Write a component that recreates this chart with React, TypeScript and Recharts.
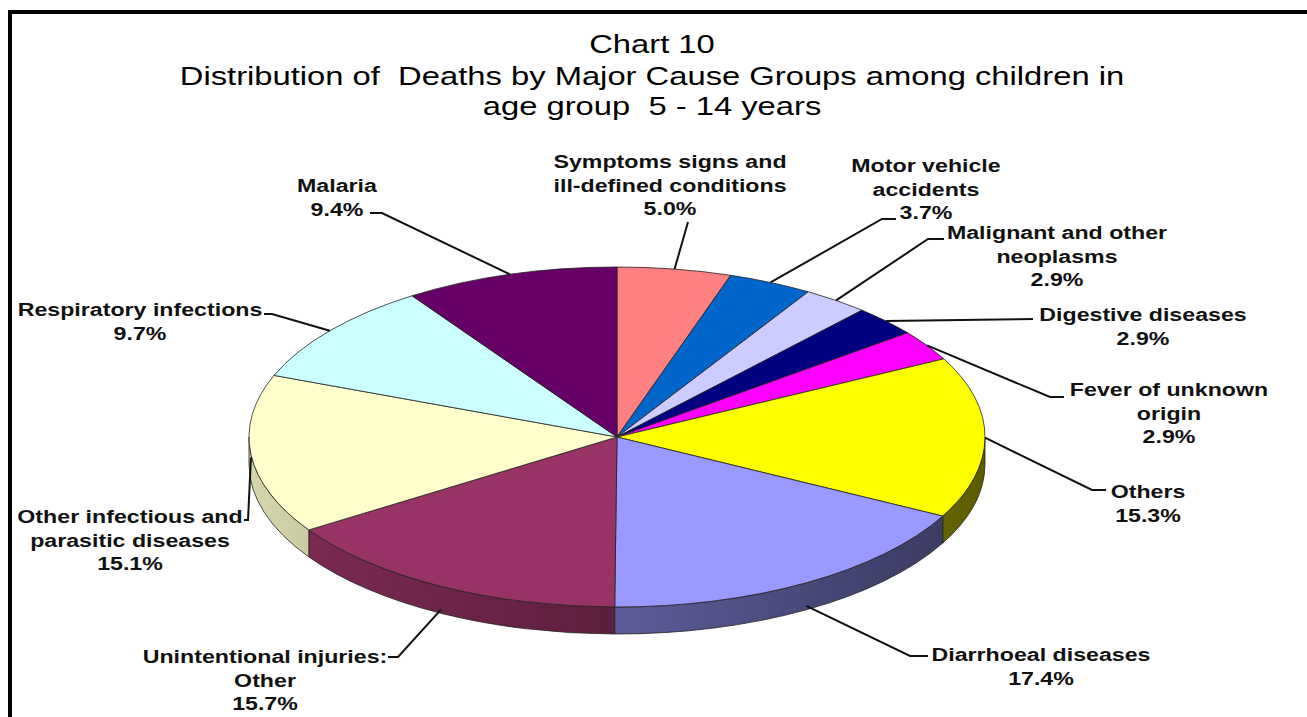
import React from 'react';
import { PieChart, Pie } from 'recharts';

// ---------- data ----------
const categories = [
  'Symptoms signs and\nill-defined conditions',
  'Motor vehicle\naccidents',
  'Malignant and other\nneoplasms',
  'Digestive diseases',
  'Fever of unknown\norigin',
  'Others',
  'Diarrhoeal diseases',
  'Unintentional injuries:\nOther',
  'Other infectious and\nparasitic diseases',
  'Respiratory infections',
  'Malaria',
];
const shares = [5.0, 3.7, 2.9, 2.9, 2.9, 15.3, 17.4, 15.7, 15.1, 9.7, 9.4];
const colors = [
  '#FF8080', '#0066CC', '#CCCCFF', '#000080', '#FF00FF', '#FFFF00',
  '#9999FF', '#993366', '#FFFFCC', '#CCFFFF', '#660066',
];
const titleLines = [
  'Chart 10',
  'Distribution of  Deaths by Major Cause Groups among children in',
  'age group  5 - 14 years',
];

const pieData = categories.map((name, i) => ({ name, value: shares[i] }));

// ---------- layout ----------
const W = 1307;
const H = 717;
const CX = 617;
const CY = 437;
const RX = 368;
const RY_RATIO = 0.462;
const DEPTH = 27;
const LABEL_FONT = 19;
const LABEL_SCALE = 1.22;
const LINE_H = 23.5;

// label text centre (x, first line centre y) and leader elbow points
const labelLayout: { x: number; y: number; pts: number[][] }[] = [
  { x: 670, y: 162, pts: [[688, 222]] },
  { x: 926, y: 166, pts: [[882, 219], [896, 219]] },
  { x: 1057, y: 233, pts: [[928, 239], [944, 239]] },
  { x: 1143, y: 315, pts: [[1033, 319]] },
  { x: 1169, y: 390, pts: [[1050, 397], [1064, 397]] },
  { x: 1148, y: 492, pts: [[1092, 490], [1106, 490]] },
  { x: 1041, y: 655, pts: [[910, 656], [928, 656]] },
  { x: 265, y: 657, pts: [[398, 657], [388, 657]] },
  { x: 130, y: 517, pts: [[248, 520], [244, 520]] },
  { x: 140, y: 310, pts: [[272, 314], [264, 314]] },
  { x: 337, y: 186, pts: [[382, 213], [370, 213]] },
];

const shade = (hex: string, f: number) => {
  const n = parseInt(hex.slice(1), 16);
  const r = Math.round(((n >> 16) & 255) * f);
  const g = Math.round(((n >> 8) & 255) * f);
  const b = Math.round((n & 255) * f);
  return `rgb(${r},${g},${b})`;
};

const RAD = Math.PI / 180;

const renderSlice = (props: any) => {
  const { cx, cy, outerRadius, startAngle, endAngle, index } = props;
  const rx = outerRadius;
  const ry = outerRadius * RY_RATIO;
  const pt = (a: number, dy = 0) => [cx + rx * Math.cos(a * RAD), cy - ry * Math.sin(a * RAD) + dy];
  const s = Math.max(startAngle, endAngle);
  const e = Math.min(startAngle, endAngle);
  const color = colors[index];
  const p1 = pt(s);
  const p2 = pt(e);
  const large = s - e > 180 ? 1 : 0;
  const top = `M${cx},${cy} L${p1[0]},${p1[1]} A${rx},${ry} 0 ${large} 1 ${p2[0]},${p2[1]} Z`;

  // side wall (front half: angles between -180 and 0)
  let side: string | null = null;
  const a2 = Math.min(s, 0);
  const a1 = Math.max(e, -180);
  if (a2 > a1) {
    const q2 = pt(a2);
    const q1 = pt(a1);
    const q1d = pt(a1, DEPTH);
    const q2d = pt(a2, DEPTH);
    side = `M${q2[0]},${q2[1]} A${rx},${ry} 0 0 1 ${q1[0]},${q1[1]} L${q1d[0]},${q1d[1]} A${rx},${ry} 0 0 0 ${q2d[0]},${q2d[1]} Z`;
  }

  const mid = (s + e) / 2;
  const sinM = Math.sin(mid * RAD);
  const start = pt(mid, sinM < 0 ? -sinM * DEPTH : 0);
  const L = labelLayout[index];
  const leader = [start, ...L.pts].map((p) => `${p[0]},${p[1]}`).join(' ');
  const lines = categories[index].split('\n').concat([`${shares[index].toFixed(1)}%`]);
  const gid = `side-grad-${index}`;

  return (
    <g key={`slice-${index}`}>
      <defs>
        <linearGradient id={gid} gradientUnits="userSpaceOnUse" x1={cx - rx} y1={0} x2={cx + rx} y2={0}>
          <stop offset="0" stopColor={shade(color, 0.84)} />
          <stop offset="1" stopColor={shade(color, 0.36)} />
        </linearGradient>
      </defs>
      {side && <path d={side} fill={`url(#${gid})`} stroke="#222" strokeWidth={0.8} />}
      <path d={top} fill={color} stroke="#222" strokeWidth={0.8} strokeLinejoin="round" />
      <polyline points={leader} fill="none" stroke="#111" strokeWidth={2} />
      <text
        transform={`translate(${L.x},0) scale(${LABEL_SCALE},1)`}
        textAnchor="middle"
        fontFamily="'Liberation Sans', Arial, sans-serif"
        fontWeight="bold"
        fontSize={LABEL_FONT}
        fill="#111"
      >
        {lines.map((t, i) => (
          <tspan key={i} x={0} y={L.y + 6.5 + i * LINE_H}>
            {t}
          </tspan>
        ))}
      </text>
    </g>
  );
};

export default function App() {
  return (
    <div style={{ position: 'fixed', left: 0, top: 0, width: W, height: H, background: '#fff' }}>
      <svg width={W} height={H} style={{ position: 'absolute', left: 0, top: 0 }}>
        <rect x={10} y={12} width={W + 40} height={H + 40} fill="none" stroke="#000" strokeWidth={4} />
        {titleLines.map((t, i) => (
          <text
            key={i}
            transform={`translate(652,${[53, 85, 115][i]}) scale(1.31,1)`}
            textAnchor="middle"
            fontFamily="'Liberation Sans', Arial, sans-serif"
            fontSize={25}
            fill="#000"
            style={{ whiteSpace: 'pre' }}
          >
            {t}
          </text>
        ))}
      </svg>
      <div style={{ position: 'absolute', left: 0, top: 0 }}>
        <PieChart width={W} height={H} margin={{ top: 0, right: 0, bottom: 0, left: 0 }}>
          <Pie
            data={pieData}
            dataKey="value"
            nameKey="name"
            cx={CX}
            cy={CY}
            outerRadius={RX}
            startAngle={90}
            endAngle={-270}
            fill="none"
            stroke="none"
            labelLine={false}
            label={renderSlice}
            isAnimationActive={false}
          />
        </PieChart>
      </div>
    </div>
  );
}
